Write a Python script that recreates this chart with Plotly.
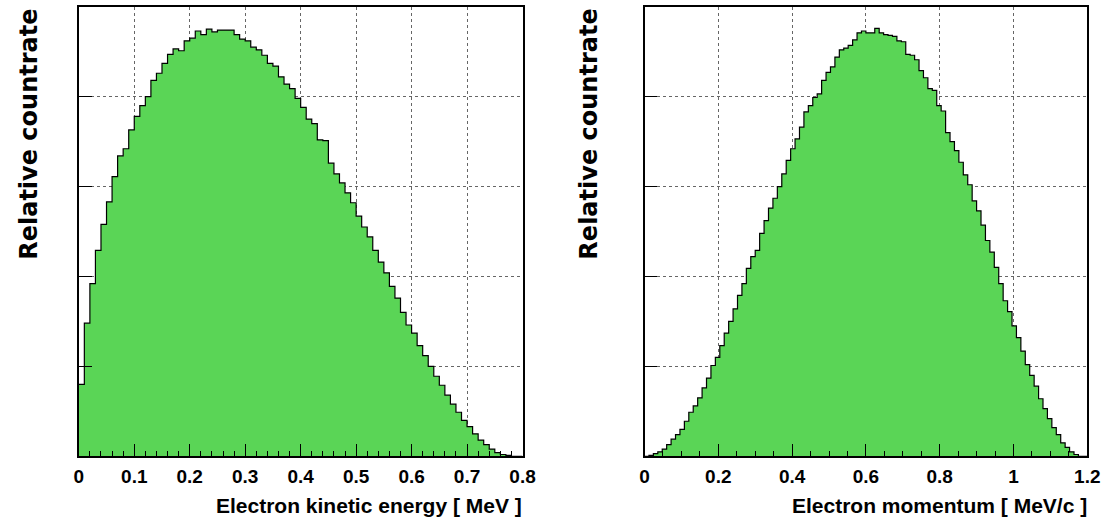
import numpy as np
import plotly.graph_objects as go

# ---- data (relative count rate per bin) ----
energy_bin_width = 0.01          # MeV, 80 bins from 0 to 0.8
energy_counts = [
    0.80, 1.48, 1.92, 2.29, 2.58, 2.83, 3.11, 3.34, 3.42, 3.63,
    3.78, 3.90, 4.00, 4.18, 4.26, 4.37, 4.47, 4.53, 4.51, 4.62,
    4.65, 4.73, 4.69, 4.75, 4.72, 4.74, 4.74, 4.74, 4.69, 4.64,
    4.62, 4.55, 4.52, 4.46, 4.37, 4.34, 4.22, 4.14, 4.09, 3.98,
    3.88, 3.75, 3.70, 3.52, 3.51, 3.26, 3.14, 3.04, 2.93, 2.82,
    2.67, 2.55, 2.44, 2.29, 2.16, 2.04, 1.89, 1.76, 1.60, 1.46,
    1.37, 1.23, 1.12, 1.00, 0.89, 0.79, 0.68, 0.58, 0.49, 0.40,
    0.33, 0.25, 0.18, 0.13, 0.08, 0.04, 0.02, 0.01, 0.00, 0.00,
]

momentum_bin_width = 0.012       # MeV/c, 100 bins from 0 to 1.2
momentum_counts = [
    0.00, 0.01, 0.03, 0.05, 0.08, 0.13, 0.19, 0.24, 0.30, 0.39,
    0.49, 0.56, 0.65, 0.76, 0.87, 1.01, 1.10, 1.23, 1.37, 1.50,
    1.64, 1.79, 1.92, 2.09, 2.22, 2.29, 2.48, 2.62, 2.76, 2.87,
    3.00, 3.14, 3.29, 3.42, 3.53, 3.66, 3.83, 3.90, 3.99, 4.03,
    4.18, 4.27, 4.33, 4.44, 4.52, 4.54, 4.57, 4.63, 4.71, 4.73,
    4.71, 4.71, 4.76, 4.71, 4.69, 4.68, 4.67, 4.62, 4.61, 4.47,
    4.46, 4.41, 4.29, 4.21, 4.09, 4.07, 3.90, 3.84, 3.60, 3.50,
    3.40, 3.27, 3.13, 3.02, 2.84, 2.73, 2.57, 2.40, 2.27, 2.10,
    1.92, 1.73, 1.61, 1.45, 1.32, 1.17, 1.02, 0.90, 0.78, 0.64,
    0.53, 0.42, 0.32, 0.24, 0.15, 0.10, 0.05, 0.02, 0.00, 0.00,
]

energy_ticks = [0, 0.1, 0.2, 0.3, 0.4, 0.5, 0.6, 0.7, 0.8]
energy_tick_labels = ["0", "0.1", "0.2", "0.3", "0.4", "0.5", "0.6", "0.7", "0.8"]
momentum_ticks = [0, 0.2, 0.4, 0.6, 0.8, 1.0, 1.2]
momentum_tick_labels = ["0", "0.2", "0.4", "0.6", "0.8", "1", "1.2"]

x_title_left = "Electron kinetic energy [ MeV ]"
x_title_right = "Electron momentum [ MeV/c ]"
y_title = "Relative countrate"

# ---- style ----
W, H = 1117, 531
FILL = "rgb(90,213,86)"
SANS = "Liberation Sans, Arial, sans-serif"
XTITLEFONT = dict(family=SANS, size=21, color="black")
YTITLEFONT = dict(family="DejaVu Sans, sans-serif", size=24, color="black")
GRID = "#666"

plot_top, plot_bottom = 6.7, 456.3
ydom = [1 - plot_bottom / H, 1 - plot_top / H]
xdom1 = [75 / W, 526 / W]
xdom2 = [650 / W, 1100 / W]


def step_xy(counts, width):
    edges = np.arange(len(counts) + 1) * width
    y = list(counts) + [counts[-1]]
    return edges, y


def bold(labels):
    return [f"<b>{t}</b>" for t in labels]


fig = go.Figure()

for counts, width, xa, ya in [
    (energy_counts, energy_bin_width, "x", "y"),
    (momentum_counts, momentum_bin_width, "x2", "y2"),
]:
    ex, ey = step_xy(counts, width)
    fig.add_trace(go.Scatter(
        x=ex, y=ey, mode="lines", line_shape="hv",
        line=dict(color="black", width=1.2),
        fill="tozeroy", fillcolor=FILL,
        xaxis=xa, yaxis=ya, showlegend=False, hoverinfo="skip",
    ))

common_x = dict(
    showline=True, linecolor="black", linewidth=1.5, mirror=True,
    ticks="inside", ticklen=13, tickwidth=1, tickcolor="black",
    showgrid=True, gridcolor=GRID, griddash="dot", gridwidth=1,
    zeroline=False, ticklabelstandoff=2,
)
common_y = dict(
    range=[0, 5], dtick=1, tick0=0,
    showline=True, linecolor="black", linewidth=1.5, mirror=True,
    ticks="inside", ticklen=13, tickwidth=1, tickcolor="black",
    showgrid=True, gridcolor=GRID, griddash="dot", gridwidth=1,
    zeroline=False, showticklabels=False,
)

fig.update_layout(
    width=W, height=H,
    margin=dict(l=0, r=0, t=0, b=0),
    paper_bgcolor="white", plot_bgcolor="white",
    font=dict(family=SANS, size=19, color="black"),
    xaxis=dict(domain=xdom1, range=[0, 0.8], anchor="y",
               tickvals=energy_ticks, ticktext=bold(energy_tick_labels),
               tickfont=dict(family=SANS, size=19, color="black"),
               minor=dict(dtick=0.02, tick0=0, ticks="inside", ticklen=6,
                          tickcolor="black", showgrid=False),
               **common_x),
    yaxis=dict(domain=ydom, anchor="x", **common_y),
    xaxis2=dict(domain=xdom2, range=[0, 1.2], anchor="y2",
                tickvals=momentum_ticks, ticktext=bold(momentum_tick_labels),
                tickfont=dict(family=SANS, size=19, color="black"),
                minor=dict(dtick=0.05, tick0=0, ticks="inside", ticklen=6,
                           tickcolor="black", showgrid=False),
                **common_x),
    yaxis2=dict(domain=ydom, anchor="x2", **common_y),
)

title_y = 1 - 505 / H
fig.add_annotation(text=f"<b>{x_title_left}</b>", xref="paper", yref="paper",
                   x=xdom1[1] + 2 / W, y=title_y, xanchor="right", yanchor="middle",
                   showarrow=False, font=XTITLEFONT)
fig.add_annotation(text=f"<b>{x_title_right}</b>", xref="paper", yref="paper",
                   x=xdom2[1] + 2 / W, y=title_y, xanchor="right", yanchor="middle",
                   showarrow=False, font=XTITLEFONT)
for xc in (25 / W, 594 / W):
    fig.add_annotation(text=f"<b>{y_title}</b>", xref="paper", yref="paper",
                       x=xc, y=ydom[1], xanchor="center", yanchor="top",
                       textangle=-90, showarrow=False, font=YTITLEFONT)

fig.write_html("out.html")
